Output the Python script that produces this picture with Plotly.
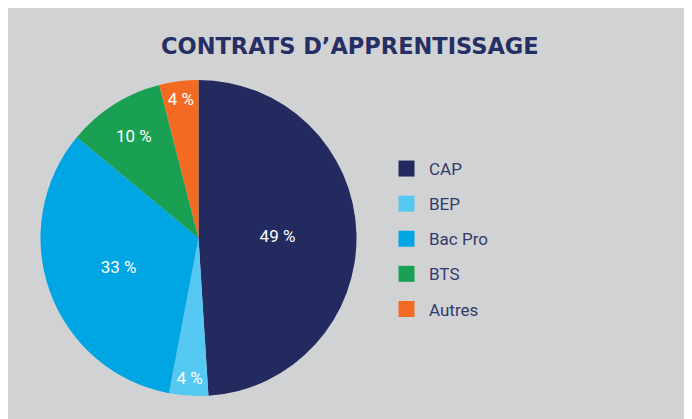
import plotly.graph_objects as go

labels = ["CAP", "BEP", "Bac Pro", "BTS", "Autres"]
values = [49, 4, 33, 10, 4]
colors = ["#222a5f", "#56c9f2", "#00a5e3", "#19a052", "#f36a22"]
title_text = "CONTRATS D\u2019APPRENTISSAGE"

BG = "#d1d2d4"
W, H = 692, 419

fig = go.Figure()
fig.add_trace(go.Pie(
    labels=labels,
    values=values,
    text=[f"{v} %" for v in values],
    textinfo="text",
    textposition="inside",
    insidetextorientation="horizontal",
    textfont=dict(family="Roboto", size=17, color="white"),
    marker=dict(colors=colors, line=dict(width=0)),
    sort=False,
    direction="clockwise",
    rotation=0,
    showlegend=False,
    hoverinfo="label+percent",
    domain=dict(x=[32 / W, 349 / W], y=[(H - 388) / H, (H - 72) / H]),
))

# legend entries via dummy traces
for lab, col in zip(labels, colors):
    fig.add_trace(go.Scatter(
        x=[None], y=[None], mode="markers", name=lab,
        marker=dict(symbol="square", size=16, color=col),
        showlegend=True, legendgroup=lab,
    ))

fig.update_layout(
    width=W, height=H,
    margin=dict(l=0, r=0, t=0, b=0),
    paper_bgcolor=BG, plot_bgcolor=BG,
    xaxis=dict(visible=False), yaxis=dict(visible=False),
    showlegend=True,
    legend=dict(
        x=376 / W, y=(H - 143) / H, xanchor="left", yanchor="top",
        font=dict(family="Roboto", size=17, color="#343a6c"),
        bgcolor="rgba(0,0,0,0)", tracegroupgap=10,
        itemsizing="trace", itemwidth=35,
    ),
    annotations=[dict(
        text=title_text, x=341.5 / W, y=(H - 37.5) / H, xref="paper", yref="paper",
        xanchor="center", yanchor="middle", showarrow=False,
        font=dict(family="DejaVu Sans", size=22.5, color="#262f63", weight="bold"),
    )],
)

fig.write_html("out.html")
